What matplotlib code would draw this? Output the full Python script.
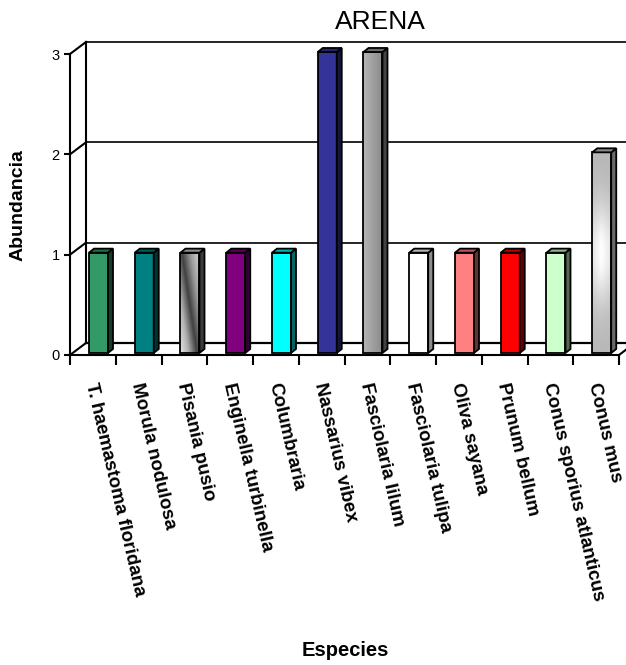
import numpy as np
import matplotlib
matplotlib.use("Agg")
import matplotlib.pyplot as plt
from matplotlib.patches import Polygon
from matplotlib.colors import to_rgb, LinearSegmentedColormap

plt.rcParams['font.family'] = ['Liberation Sans', 'DejaVu Sans']

especies = ["T. haemastoma floridana", "Morula nodulosa", "Pisania pusio",
            "Enginella turbinella", "Columbraria", "Nassarius vibex",
            "Fasciolaria lilum", "Fasciolaria tulipa", "Oliva sayana",
            "Prunum bellum", "Conus sporius atlanticus", "Conus mus"]
abundancia = [1, 1, 1, 1, 1, 3, 3, 1, 1, 1, 1, 2]
colores = ["#339966", "#008080", "#c8c8c8", "#800080", "#00ffff", "#333399",
           "#969696", "#ffffff", "#ff8080", "#ff0000", "#ccffcc", "#c0c0c0"]
yticks = [0, 1, 2, 3]

# depth of the fake 3d box (category / value units)
DX, DY = 0.35, 0.12
ddx, ddy = 0.11, 0.04
w, off, base = 0.415, 0.415, 0.02

fig = plt.figure(figsize=(6.26, 6.65), dpi=100)
ax = fig.add_axes([70/626, 310/665, 549/626, 301/665])

# back wall, grid lines and floor
for k in yticks:
    lw = 1.6 if k == 0 else 1.2
    ax.plot([DX, 12 + DX + 0.5], [k + DY, k + DY], color='black', lw=lw, clip_on=False, zorder=1)
    ax.plot([0, DX], [k, k + DY], color='black', lw=1.5, clip_on=False, zorder=1)
ax.plot([DX, DX], [DY, 3 + DY], color='black', lw=1.5, clip_on=False, zorder=1)
ax.plot([12, 12 + DX], [0, DY], color='black', lw=1.5, clip_on=False, zorder=1)

x = np.arange(len(especies)) + off
bars = ax.bar(x, abundancia, width=w, bottom=base, align='edge', color=colores,
              edgecolor='none', zorder=3, clip_on=False)


def shade(c, f):
    r, g, b = to_rgb(c)
    return (r * f, g * f, b * f)


# gradient fills for the textured bars
grad = {
    2: LinearSegmentedColormap.from_list('g2', ['#e6e6e6', '#b0b0b0', '#404040', '#9a9a9a', '#d0d0d0']),
    6: LinearSegmentedColormap.from_list('g6', ['#b4b4b4', '#8c8c8c']),
    11: LinearSegmentedColormap.from_list('g11', ['#b8b8b8', '#ffffff']),
}
for i, cmap in grad.items():
    b = bars[i]
    u = np.linspace(0, 1, 40)
    v = np.linspace(0, 1, 120)
    U, V = np.meshgrid(u, v)
    if i == 2:
        arr = np.clip(0.55 * U + 0.45 * V, 0, 1)
    elif i == 6:
        arr = U
    else:
        arr = np.exp(-((V - 0.5) / 0.25) ** 2) * (1 - 0.7 * np.abs(U - 0.5))
    im = ax.imshow(arr, extent=[b.get_x(), b.get_x() + w, base, base + abundancia[i]],
                   cmap=cmap, aspect='auto', origin='lower', zorder=3.2)
    im.set_clip_path(b)

ax.bar(x, abundancia, width=w, bottom=base, align='edge', fill=False,
       edgecolor='black', lw=1.3, zorder=4, clip_on=False)

side_f = {7: 0.55, 2: 0.3, 11: 0.55, 6: 0.45}
for i, (xi, h) in enumerate(zip(x, abundancia)):
    c = colores[i]
    top = base + h
    x1 = xi + w
    side = Polygon([(x1, base), (x1 + ddx, base + ddy), (x1 + ddx, top + ddy), (x1, top)],
                   closed=True, fc=shade(c, side_f.get(i, 0.4)), ec='black', lw=1.3,
                   zorder=4, clip_on=False)
    cap = Polygon([(xi, top), (xi + ddx, top + ddy), (x1 + ddx, top + ddy), (x1, top)],
                  closed=True, fc=shade(c, 0.7), ec='black', lw=1.3, zorder=4, clip_on=False)
    ax.add_patch(side)
    ax.add_patch(cap)

ax.set_xlim(0, 12)
ax.set_ylim(0, 3)
ax.patch.set_visible(False)
for s in ['top', 'right']:
    ax.spines[s].set_visible(False)
for s in ['left', 'bottom']:
    ax.spines[s].set_linewidth(1.5)
    ax.spines[s].set_zorder(2)

ax.set_yticks(yticks)
ax.tick_params(axis='y', direction='out', length=4.5, width=1.5, labelsize=10.5, pad=3)
ax.set_xticks(np.arange(13))
ax.tick_params(axis='x', which='major', direction='out', length=7, width=1.5, labelbottom=False)
ax.set_xticks(np.arange(12) + 0.45, minor=True)
ax.set_xticklabels(especies, minor=True, fontsize=13.5, fontweight='bold')
ax.tick_params(axis='x', which='minor', length=0, pad=20)
for lab in ax.get_xticklabels(minor=True):
    lab.set_rotation(-77)
    lab.set_rotation_mode('anchor')
    lab.set_ha('left')
    lab.set_va('center')

fig.text(380/626, 1 - 22/665, "ARENA", fontsize=19, ha='center', va='center')
fig.text(18/626, 1 - 205/665, "Abundancia", fontsize=14, fontweight='bold',
         rotation=90, ha='center', va='center')
fig.text(345/626, 1 - 651/665, "Especies", fontsize=14.5, fontweight='bold',
         ha='center', va='center')

fig.savefig("out.png", dpi=100)
